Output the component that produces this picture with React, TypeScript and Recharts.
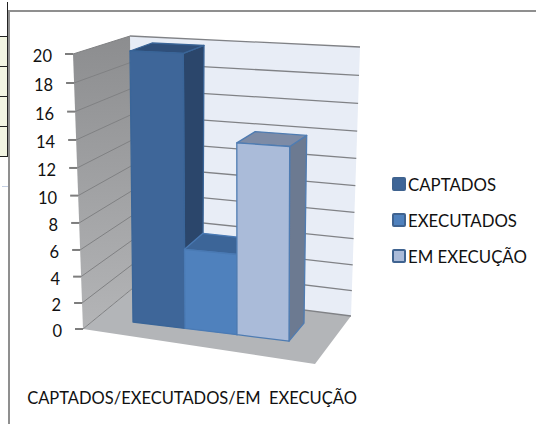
import React from "react";
import { BarChart, Bar, XAxis, YAxis, CartesianGrid, Legend } from "recharts";

const categories = ["CAPTADOS/EXECUTADOS/EM  EXECUÇÃO"];
const seriesNames = ["CAPTADOS", "EXECUTADOS", "EM EXECUÇÃO"];
const captados = [20];
const executados = [6];
const emExecucao = [14];
const yTicks = [0, 2, 4, 6, 8, 10, 12, 14, 16, 18, 20];

const data = categories.map((name, i) => ({
  name,
  [seriesNames[0]]: captados[i],
  [seriesNames[1]]: executados[i],
  [seriesNames[2]]: emExecucao[i],
}));

type P = [number, number];
const PL = 133, PR = 288, PT = 54, PB = 329;
const PW = PR - PL, PH = PB - PT;
const W = 536, H = 424;
const LEGEND_W = 140;
const X_AXIS_H = 20;
const FONT = "Lato, sans-serif";

const lerp = (a: P, b: P, t: number): P => [a[0] + (b[0] - a[0]) * t, a[1] + (b[1] - a[1]) * t];
const warp = (t: number) => 0.94 * t + 0.06 * t * t;
const pts = (l: P[]) => l.map((p) => `${p[0].toFixed(1)},${p[1].toFixed(1)}`).join(" ");

// wall and floor planes of the pseudo-3D box
const FTL: P = [73, 54], FBL: P = [83, 329], FBR: P = [315, 364];
const BTL: P = [130, 36], BBL: P = [133, 288], BTR: P = [360, 47], BBR: P = [351, 316];
// planes holding the front and back faces of the columns
const bfBL: P = [133, 322], bfBR: P = [288, 341], bfTL: P = [130, 51], bfTR: P = [289, 58];
const bbBL: P = [152, 302], bbBR: P = [303, 323], bbTL: P = [152, 43], bbTR: P = [307, 50];

const onPlane = (bl: P, br: P, tl: P, tr: P, u: number, w: number): P =>
  lerp(lerp(bl, br, u), lerp(tl, tr, u), w);

const gridLine = (props: any) => {
  const w = warp((PB - props.y1) / PH);
  const a = lerp(FBL, FTL, w), b = lerp(BBL, BTL, w), c = lerp(BBR, BTR, w);
  return (
    <g key={props.index}>
      {props.index === 0 && (
        <g>
          <defs>
            <linearGradient id="side" x1="0" y1="0" x2="0" y2="1">
              <stop offset="0" stopColor="#8c8d8f" />
              <stop offset="1" stopColor="#b4b5b7" />
            </linearGradient>
          </defs>
          <polygon points={pts([BTL, BTR, BBR, BBL])} fill="#e8edf6" />
          <polygon points={pts([FTL, BTL, BBL, FBL])} fill="url(#side)" />
          <polygon points={pts([FBL, BBL, BBR, FBR])} fill="#b3b5b8" />
        </g>
      )}
      <line x1={a[0]} y1={a[1]} x2={b[0]} y2={b[1]} stroke="#808183" strokeWidth={1} />
      <line x1={b[0]} y1={b[1]} x2={c[0]} y2={c[1]} stroke="#808286" strokeWidth={1.3} />
    </g>
  );
};

const YTick = (props: any) => {
  const w = warp((PB - props.y) / PH);
  const a = lerp(FBL, FTL, w);
  return (
    <g>
      <line x1={a[0] - 8} y1={a[1]} x2={a[0]} y2={a[1]} stroke="#7d7d7d" strokeWidth={2} />
      <text x={a[0] - 21} y={a[1] + 8} textAnchor="end" fontFamily={FONT} fontSize={16.5} fill="#111">
        {props.payload.value}
      </text>
    </g>
  );
};

const XTick = (props: any) => (
  <text x={192} y={404} textAnchor="middle" fontFamily={FONT} fontSize={16.5} fill="#111" xmlSpace="preserve">
    {props.payload.value}
  </text>
);

const makeBar = (front: string, top: string, side: string, stroke: string) => (props: any) => {
  const { x, width, height } = props;
  const u0 = (x - PL) / PW, u1 = (x + width - PL) / PW, w = warp(height / PH);
  const f = (u: number, v: number) => onPlane(bfBL, bfBR, bfTL, bfTR, u, v);
  const b = (u: number, v: number) => onPlane(bbBL, bbBR, bbTL, bbTR, u, v);
  return (
    <g stroke={stroke} strokeWidth={1.3} strokeLinejoin="round">
      <polygon points={pts([f(u1, 0), b(u1, 0), b(u1, w), f(u1, w)])} fill={side} />
      <polygon points={pts([f(u0, w), b(u0, w), b(u1, w), f(u1, w)])} fill={top} />
      <polygon points={pts([f(u0, 0), f(u1, 0), f(u1, w), f(u0, w)])} fill={front} />
    </g>
  );
};

const swatch = ["#3e6597", "#4f81bd", "#aabbd9"];
const LegendBox = () => (
  <div style={{ fontFamily: FONT, fontSize: 16.8, color: "#111" }}>
    {seriesNames.map((name, i) => (
      <div key={name} style={{ display: "flex", alignItems: "center", height: 36, whiteSpace: "nowrap" }}>
        <span
          style={{
            width: 10,
            height: 10,
            marginRight: 2,
            background: swatch[i],
            border: "2px solid #3f6390",
            borderRadius: 2,
            display: "inline-block",
          }}
        />
        {name}
      </div>
    ))}
  </div>
);

const box = (left: number, top: number, width: number, height: number, background: string) => (
  <div key={`${left}-${top}`} style={{ position: "absolute", left, top, width, height, background }} />
);

export default function App() {
  return (
    <div style={{ position: "absolute", left: 0, top: 0, width: W, height: H, background: "#fff", overflow: "hidden" }}>
      {box(0, 36, 7, 120, "#f2f5e2")}
      {box(7, 2, 1, 155, "#222")}
      {[36, 66, 96, 126, 156].map((y) => box(0, y, 7, 1, "#222"))}
      {box(2, 186, 6, 1, "#c5d0e4")}
      {box(8, 10, 528, 2, "#8f8f8f")}
      {box(8, 10, 2, 414, "#8f8f8f")}
      <BarChart
        width={W}
        height={H}
        data={data}
        barCategoryGap={0}
        barGap={0}
        margin={{ top: PT, bottom: H - PB - X_AXIS_H, left: PL - 60, right: W - PR - LEGEND_W }}
        style={{ position: "absolute", left: 0, top: 0 }}
      >
        <CartesianGrid horizontal={gridLine} vertical={false} />
        <XAxis dataKey="name" axisLine={false} tickLine={false} tick={XTick} height={X_AXIS_H} interval={0} />
        <YAxis
          width={60}
          domain={[0, 20]}
          ticks={yTicks}
          axisLine={false}
          tickLine={false}
          tick={YTick}
          interval={0}
        />
        <Legend
          layout="vertical"
          align="right"
          verticalAlign="middle"
          content={LegendBox}
          wrapperStyle={{ position: "absolute", left: 392, top: 166, width: LEGEND_W, bottom: "auto", right: "auto" }}
        />
        <Bar dataKey={seriesNames[0]} fill={swatch[0]} isAnimationActive={false} shape={makeBar("#3e6699", "#2f4f7a", "#2b466b", "#3a6598")} />
        <Bar dataKey={seriesNames[1]} fill={swatch[1]} isAnimationActive={false} shape={makeBar("#4f81bd", "#3c6598", "#34567f", "#4a7ab4")} />
        <Bar dataKey={seriesNames[2]} fill={swatch[2]} isAnimationActive={false} shape={makeBar("#aabbd9", "#7d8ba6", "#6c7a91", "#4f7cb2")} />
      </BarChart>
    </div>
  );
}
